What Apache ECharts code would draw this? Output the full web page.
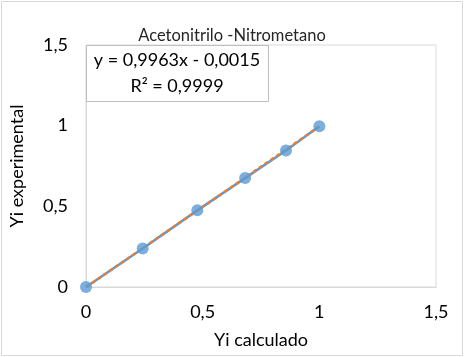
<!DOCTYPE html>
<html>
<head>
<meta charset="utf-8">
<script src="https://cdn.jsdelivr.net/npm/echarts@6/dist/echarts.min.js"></script>
<style>
  html, body { margin: 0; padding: 0; background: #fff; }
  #main { width: 464px; height: 357px; }
</style>
</head>
<body>
<div id="main"></div>
<script>
// values
var yiCalculado = [0, 0.243, 0.477, 0.682, 0.857, 1.0]
var yiExperimental = [0, 0.239, 0.475, 0.675, 0.846, 0.996]
// trendline endpoints (y = 0,9963x - 0,0015)
var trendX = [0, 1]
var trendY = [-0.0015, 0.9948]
var equationText = 'y = 0,9963x - 0,0015\nR² = 0,9999'

var font = 'Lato, "Open Sans", sans-serif'

function pairs (xs, ys) {
  return xs.map(function (x, i) { return [x, ys[i]] })
}

function comma (v) {
  return String(v).replace('.', ',')
}

var chart = echarts.init(document.getElementById('main'))

var option = {
  animation: false,
  textStyle: { fontFamily: font },
  title: {
    text: 'Acetonitrilo -Nitrometano',
    left: 'center',
    top: 22,
    textStyle: { fontSize: 16.5, fontWeight: 'normal', color: '#262626', fontFamily: font }
  },
  graphic: [
    {
      type: 'rect',
      shape: { x: 1.5, y: 1.5, width: 461, height: 354 },
      style: { fill: 'none', stroke: '#d9d9d9', lineWidth: 1 },
      silent: true
    },
    {
      type: 'rect',
      shape: { x: 86.5, y: 45.5, width: 182, height: 56 },
      style: { fill: '#fff', stroke: '#bfbfbf', lineWidth: 1 },
      z: 10,
      silent: true
    },
    {
      type: 'text',
      x: 177,
      y: 73,
      z: 11,
      style: {
        text: equationText,
        fill: '#000',
        font: '18px ' + font,
        lineHeight: 26,
        align: 'center',
        verticalAlign: 'middle'
      },
      silent: true
    }
  ],
  grid: {
    left: 83,
    right: 28,
    top: 45,
    bottom: 70,
    show: true,
    borderColor: '#d9d9d9',
    borderWidth: 1
  },
  xAxis: {
    type: 'value',
    min: 0,
    max: 1.5,
    interval: 0.5,
    name: 'Yi calculado',
    nameLocation: 'middle',
    nameGap: 44,
    nameTextStyle: { fontSize: 18, color: '#000', fontFamily: font },
    axisLine: { show: true, lineStyle: { color: '#d9d9d9' } },
    axisTick: { show: false },
    splitLine: { show: false },
    axisLabel: { fontSize: 18, color: '#000', margin: 16, formatter: comma, fontFamily: font }
  },
  yAxis: {
    type: 'value',
    min: 0,
    max: 1.5,
    interval: 0.5,
    name: 'Yi experimental',
    nameLocation: 'middle',
    nameGap: 60,
    nameTextStyle: { fontSize: 18, color: '#000', fontFamily: font },
    axisLine: { show: true, lineStyle: { color: '#d9d9d9' } },
    axisTick: { show: false },
    splitLine: { show: false },
    axisLabel: { fontSize: 18, color: '#000', margin: 18, formatter: comma, fontFamily: font }
  },
  series: [
    {
      type: 'line',
      data: pairs(yiCalculado, yiExperimental),
      showSymbol: false,
      lineStyle: { color: '#5b9bd5', width: 2.5 },
      z: 2
    },
    {
      type: 'line',
      data: pairs(trendX, trendY),
      showSymbol: false,
      lineStyle: { color: '#ed7d31', width: 2.5, type: [4, 3] },
      z: 3
    },
    {
      type: 'scatter',
      data: pairs(yiCalculado, yiExperimental),
      symbolSize: 12,
      itemStyle: { color: '#5b9bd5' },
      z: 4
    }
  ]
}

chart.setOption(option)
</script>
</body>
</html>
